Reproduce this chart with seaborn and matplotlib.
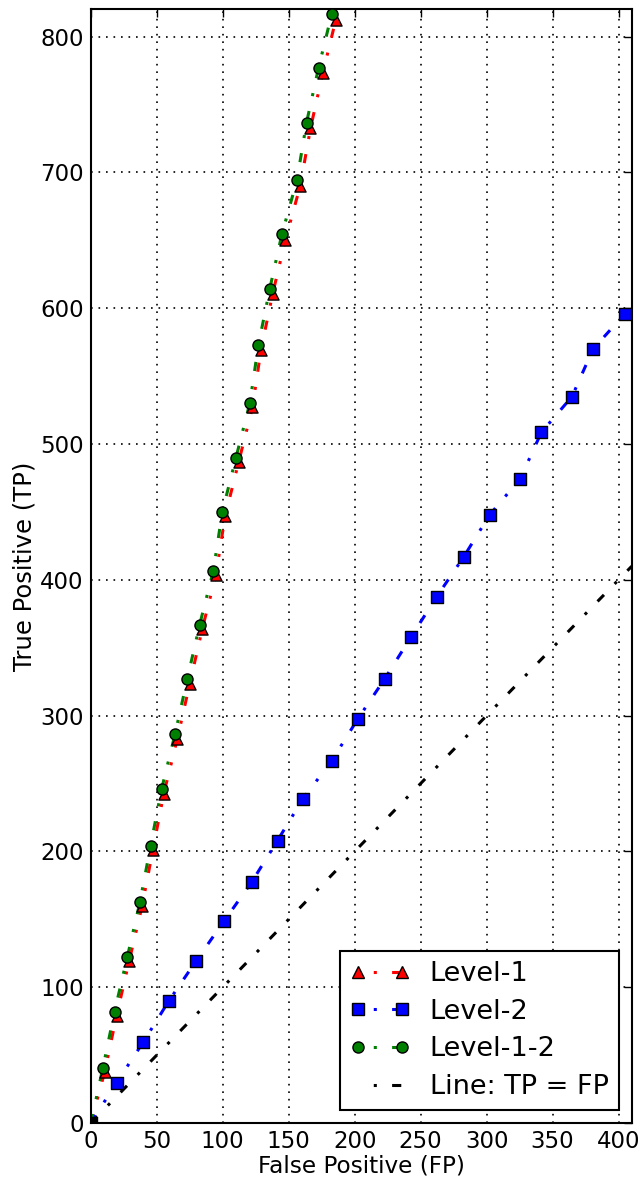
import matplotlib
matplotlib.use("Agg")
import matplotlib.pyplot as plt
import seaborn as sns
from matplotlib.lines import Line2D

# data (FP on x, TP on y)
fp_level1 = [10.5, 19.5, 29, 38.8, 47, 55.3, 65.6, 75, 84.5, 94.8, 101.8, 112, 122.5, 129, 137.8, 147.5, 158.7, 166.5, 175.8, 185.7]
tp_level1 = [37.5, 79, 119, 159.5, 201, 242.5, 283, 323.5, 364, 403.5, 447, 486.5, 527, 569.5, 610.5, 650.5, 690, 732.5, 773, 812.5]

fp_level2 = [19.5, 39.7, 59.2, 80, 101, 122, 141.5, 160.7, 182.7, 202.2, 222.7, 242.7, 262.2, 282.7, 302.2, 325.5, 341.5, 364.7, 380.7, 404.7]
tp_level2 = [29.7, 59.5, 90, 119.6, 148.7, 177.5, 208, 238.6, 266.9, 297.3, 327, 357.9, 387.6, 417, 447.7, 474.5, 508.6, 534.9, 570, 595.8]

fp_level12 = [9.1, 18, 27.6, 37.2, 45.3, 53.6, 63.8, 73.1, 82.5, 92.9, 99.7, 109.9, 120.5, 127, 135.6, 144.8, 156.2, 163.5, 172.6, 182.7]
tp_level12 = [40.3, 82, 122, 162.5, 204, 245.7, 286.2, 326.8, 367, 406.8, 450.2, 489.5, 530, 572.7, 614.1, 654.4, 694.1, 736.6, 777, 817]

fp_diag = [0, 410]
tp_diag = [0, 410]

origin = (0, 0)
labels = ["Level-1", "Level-2", "Level-1-2", "Line: TP = FP"]
x_ticks = [0, 50, 100, 150, 200, 250, 300, 350, 400]
y_ticks = [0, 100, 200, 300, 400, 500, 600, 700, 800]

sns.set_style("white")
plt.rcParams["font.family"] = ["DejaVu Sans"]
plt.rcParams["text.color"] = "black"
plt.rcParams["axes.labelcolor"] = "black"

DASHDOT = (0, (3, 5, 1, 5))
DASHDOT_LEG = (3, (3, 5, 1, 5))  # legend sample starts with the dot, like the original
LW = 2.2

fig = plt.figure(figsize=(6.44, 11.8), dpi=100)
ax = fig.add_axes([0.141, 0.0483, 0.840, 0.9437])

series = [
    (fp_level1, tp_level1, "#ff0000", "^", 8),
    (fp_level2, tp_level2, "#0000ff", "s", 9),
    (fp_level12, tp_level12, "#008000", "o", 8),
]

handles = []
for (fp, tp, col, mk, ms), lab in zip(series, labels):
    # line starts at the origin, markers only on the measured points
    sns.lineplot(x=[origin[0]] + fp, y=[origin[1]] + tp, sort=False, estimator=None,
                 color=col, linestyle=DASHDOT, linewidth=LW, ax=ax, legend=False, zorder=2)
    sns.scatterplot(x=fp, y=tp, marker=mk, s=ms ** 2, color=col, edgecolor="black",
                    linewidth=1.0, ax=ax, legend=False, zorder=3)
    handles.append(Line2D([], [], color=col, linestyle=DASHDOT_LEG, linewidth=LW, marker=mk,
                          markersize=ms, markerfacecolor=col, markeredgecolor="black",
                          markeredgewidth=1.0))

sns.lineplot(x=fp_diag, y=tp_diag, sort=False, estimator=None, color="black",
             linestyle=DASHDOT, linewidth=LW, ax=ax, legend=False, zorder=2)
ax.plot([origin[0]], [origin[1]], "ks", markersize=8, zorder=4)
handles.append(Line2D([], [], color="black", linestyle=DASHDOT_LEG, linewidth=LW))

ax.set_xlim(0, 410)
ax.set_ylim(0, 820)
ax.set_xticks(x_ticks)
ax.set_yticks(y_ticks)
ax.grid(True, color="black", linestyle=(0, (1, 3.5)), linewidth=1.2)
ax.set_axisbelow(True)
for sp in ax.spines.values():
    sp.set_color("black")
    sp.set_linewidth(1.5)
ax.tick_params(direction="in", length=6, width=1, top=True, right=True,
               labelsize=16.5, pad=5, colors="black")

ax.set_xlabel("False Positive (FP)", fontsize=16.7, labelpad=1, color="black")
ax.set_ylabel("True Positive (TP)", fontsize=17.5, labelpad=3, color="black")

leg = ax.legend(handles, labels, loc="lower right", numpoints=2, fontsize=19.5,
                frameon=True, fancybox=False, edgecolor="black", framealpha=1,
                handlelength=2.2, borderaxespad=0.48, labelspacing=0.43,
                handletextpad=0.74, borderpad=0.37)
leg.get_frame().set_linewidth(1.5)
for t in leg.get_texts():
    t.set_color("black")

fig.savefig("out.png", dpi=100)
